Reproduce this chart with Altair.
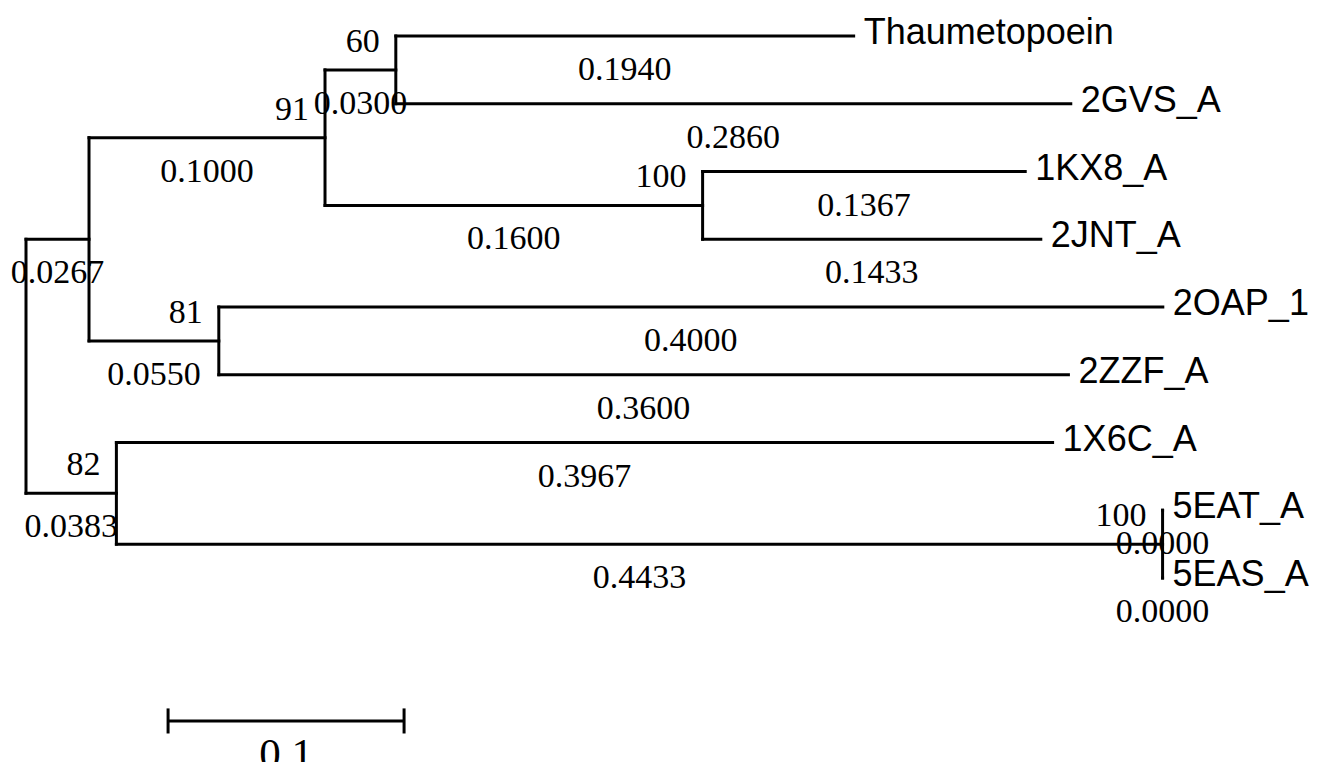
import altair as alt
import pandas as pd

# ---- tree data (parent-index form) ----
names = ["root", "n1", "n91", "n60", "Thaumetopoein", "2GVS_A", "n100a", "1KX8_A", "2JNT_A",
         "n81", "2OAP_1", "2ZZF_A", "n82", "1X6C_A", "n100b", "5EAT_A", "5EAS_A"]
parents = [-1, 0, 1, 2, 3, 3, 2, 6, 6, 1, 9, 9, 0, 12, 12, 14, 14]
lengths = [0.0, 0.0267, 0.1000, 0.0300, 0.1940, 0.2860, 0.1600, 0.1367, 0.1433,
           0.0550, 0.4000, 0.3600, 0.0383, 0.3967, 0.4433, 0.0000, 0.0000]
bootstrap = [None, None, 91, 60, None, None, 100, None, None, 81, None, None, 82, None, 100, None, None]
SCALE_LEN = 0.1
SCALE_LABEL = "0.1"

# ---- layout from the tree ----
n = len(names)
children = {i: [] for i in range(n)}
for i, p in enumerate(parents):
    if p >= 0:
        children[p].append(i)

xpos = [0.0] * n
for i in range(n):
    if parents[i] >= 0:
        xpos[i] = xpos[parents[i]] + lengths[i]

ypos = [0.0] * n
counter = [0]


def assign(i):
    if not children[i]:
        ypos[i] = counter[0]
        counter[0] += 1
    else:
        for c in children[i]:
            assign(c)
        ypos[i] = (ypos[children[i][0]] + ypos[children[i][-1]]) / 2


assign(0)

segs = []
for i in range(n):
    if parents[i] >= 0:
        segs.append({"x": xpos[parents[i]], "x2": xpos[i], "y": ypos[i], "y2": ypos[i]})
    if children[i]:
        segs.append({"x": xpos[i], "x2": xpos[i],
                     "y": ypos[children[i][0]], "y2": ypos[children[i][-1]]})
seg_df = pd.DataFrame(segs)

blen_df = pd.DataFrame([
    {"x": (xpos[parents[i]] + xpos[i]) / 2, "y": ypos[i], "t": f"{lengths[i]:.4f}"}
    for i in range(n) if parents[i] >= 0
])
boot_df = pd.DataFrame([
    {"x": xpos[i], "y": ypos[i], "t": str(bootstrap[i])}
    for i in range(n) if bootstrap[i] is not None
])
leaf_df = pd.DataFrame([
    {"x": xpos[i], "y": ypos[i], "t": names[i]}
    for i in range(n) if not children[i]
])

# scale bar (in tree units)
sb_x0 = 0.0602
sb_row = 10.11
sb_df = pd.DataFrame([
    {"x": sb_x0, "x2": sb_x0 + SCALE_LEN, "y": sb_row, "y2": sb_row},
    {"x": sb_x0, "x2": sb_x0, "y": sb_row - 0.185, "y2": sb_row + 0.185},
    {"x": sb_x0 + SCALE_LEN, "x2": sb_x0 + SCALE_LEN, "y": sb_row - 0.185, "y2": sb_row + 0.185},
])
sbl_df = pd.DataFrame([{"x": sb_x0 + SCALE_LEN / 2, "y": sb_row, "t": SCALE_LABEL}])

# ---- scales ----
W, H = 1303, 754
PX_PER_UNIT = 2360.0
PX_PER_ROW = 67.75
xmin = -18 / PX_PER_UNIT
xmax = xmin + W / PX_PER_UNIT
ymin = -28 / PX_PER_ROW
ymax = ymin + H / PX_PER_ROW
xs = alt.Scale(domain=[xmin, xmax], nice=False, zero=False)
ys = alt.Scale(domain=[ymin, ymax], nice=False, zero=False, reverse=True)

X = alt.X("x:Q", scale=xs, axis=None)
Y = alt.Y("y:Q", scale=ys, axis=None)

lines = alt.Chart(seg_df).mark_rule(color="black", strokeWidth=3, strokeCap="square").encode(
    x=X, x2="x2:Q", y=Y, y2="y2:Q")

blen = alt.Chart(blen_df).mark_text(
    font="Liberation Serif", fontSize=34, align="center", baseline="alphabetic", dy=44, color="black"
).encode(x=X, y=Y, text="t:N")

boot = alt.Chart(boot_df).mark_text(
    font="Liberation Serif", fontSize=34, align="right", baseline="alphabetic", dx=-16, dy=-18, color="black"
).encode(x=X, y=Y, text="t:N")

leaves = alt.Chart(leaf_df).mark_text(
    font="Liberation Sans", fontSize=36, align="left", baseline="alphabetic", dx=10, dy=8, color="black"
).encode(x=X, y=Y, text="t:N")

sbar = alt.Chart(sb_df).mark_rule(color="black", strokeWidth=3).encode(
    x=X, x2="x2:Q", y=Y, y2="y2:Q")

sbl = alt.Chart(sbl_df).mark_text(
    font="Liberation Serif", fontSize=43, align="center", baseline="alphabetic", dy=47, color="black"
).encode(x=X, y=Y, text="t:N")

chart = alt.layer(lines, blen, boot, leaves, sbar, sbl).properties(
    width=W, height=H, padding=0, autosize=alt.AutoSizeParams(type="none"), background="white"
).configure_view(stroke=None)

chart.save("out.html", embed_options={"renderer": "svg", "actions": False})
